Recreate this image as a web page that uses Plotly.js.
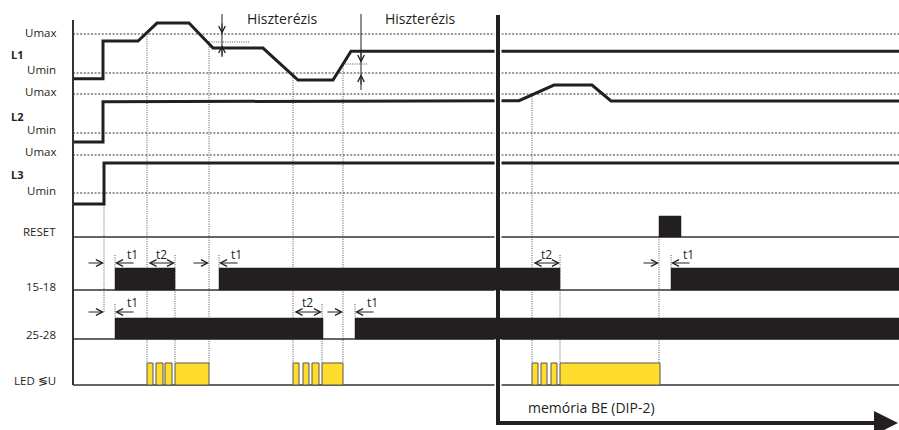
<!DOCTYPE html>
<html>
<head>
<meta charset="utf-8">
<script src="https://cdn.plot.ly/plotly-3.0.1.min.js"></script>
<style>
html,body{margin:0;padding:0;background:#fff;}
#chart{width:899px;height:430px;}
</style>
</head>
<body>
<div id="chart"></div>
<script>
// ================= DATA =================
// time axis in arbitrary units (0..899)
const timeStart = 73;
const timeEnd = 899;

// Supply voltages, normalised per phase: 0 = Umin, 1 = Umax
const l1Time  = [73, 103, 103, 138, 157, 189, 213, 263, 298, 333, 351, 899];
const l1Level = [-0.15, -0.15, 0.82, 0.82, 1.28, 1.28, 0.64, 0.64, -0.18, -0.18, 0.56, 0.56];
const l2Time  = [73, 103, 103, 519, 554, 592, 611, 899];
const l2Level = [-0.23, -0.23, 0.80, 0.83, 1.23, 1.23, 0.82, 0.82];
const l3Time  = [73, 104, 104, 899];
const l3Level = [-0.29, -0.29, 0.79, 0.79];

// Digital states: on-intervals
const resetStart = [659];
const resetEnd   = [681];
const relay1518Start = [115, 219, 671];
const relay1518End   = [175, 560, 899];
const relay2528Start = [115, 355];
const relay2528End   = [323, 899];
const ledStart = [147, 156, 165, 175, 293, 303, 312, 322, 532, 541, 551, 560];
const ledEnd   = [153, 163, 172, 209, 299, 309, 319, 343, 538, 547, 557, 660];

// Memory (DIP-2) switched on at
const memoryOnTime = 498;

// Delays
const delay1518Label = ['t1', 't2', 't1', 't2', 't1'];
const delay1518From  = [104, 147, 209, 532, 659];
const delay1518To    = [115, 175, 219, 560, 671];
const delay2528Label = ['t1', 't2', 't1'];
const delay2528From  = [104, 293, 343];
const delay2528To    = [115, 322, 355];

// Event marker lines: time, from level, to level
const eventTime = [104, 115, 115, 147, 175, 209, 219, 293, 322, 343, 355, 532, 560, 659, 671];
const eventFrom = ['L3low','t1518','t2528','L1max','t1518','L1hyst','t1518','L1min','t2528','L1hyst2','t2528','L2max','t1518','RESETbase','t1518'];
const eventTo   = ['arr2528','top1518','top2528','LED','LED','LED','top1518','LED','LED','LED','top2528','LED','LED','LED','top1518'];

// Hysteresis markers
const hystTime  = [222, 361];
const hystFrom  = [209, 343];
const hystTo    = [250, 367];

// Text
const levelLabels   = ['Umax', 'Umin', 'Umax', 'Umin', 'Umax', 'Umin'];
const channelLabels = ['L1', 'L2', 'L3'];
const outputLabels  = ['RESET', '15-18', '25-28', 'LED \u2276U'];
const hystText = 'Hiszterézis';
const memoryText = 'memória BE (DIP-2)';

// ================= LAYOUT GEOMETRY =================
const ROW = {
  L1: {umax: 34, umin: 73, label: 54},
  L2: {umax: 94, umin: 133, label: 116},
  L3: {umax: 155, umin: 193, label: 174},
  RESET: {base: 237, top: 216, label: 231},
  R1518: {base: 290, top: 268, arrow: 263, tlabel: 254, label: 286},
  R2528: {base: 339, top: 318, arrow: 312, tlabel: 302, label: 334},
  LED: {base: 385, top: 363, label: 380}
};
const REF = {
  L1max: 34, L1hyst: 42, L1min: 73, L1hyst2: 64, L2max: 94, L3low: 205,
  RESETbase: 237, t1518: 255, top1518: 268, t2528: 304, arr2528: 312, top2528: 318, LED: 363
};
const hystLineY = [42, 64];
const hystBottom = [57, 90];
const hystDownTip = [34, 63];
const hystUpTip = [45, 74];
const INK = '#231f20';

function levelToY(row, v) { return row.umin - v * (row.umin - row.umax); }
function rects(starts, ends, y0, y1) {
  const xs = [], ys = [];
  for (let i = 0; i < starts.length; i++) {
    xs.push(starts[i], starts[i], ends[i], ends[i], starts[i], null);
    ys.push(y0, y1, y1, y0, y0, null);
  }
  return {x: xs, y: ys};
}

const traces = [];

// dashed Umin/Umax levels
(function () {
  const xs = [], ys = [];
  [ROW.L1, ROW.L2, ROW.L3].forEach(r => {
    xs.push(timeStart, timeEnd, null, timeStart, timeEnd, null);
    ys.push(r.umax, r.umax, null, r.umin, r.umin, null);
  });
  traces.push({x: xs, y: ys, mode: 'lines', line: {color: '#333', width: 1, dash: '2px,1.6px'}});
})();

// dotted event lines + hysteresis dotted lines
(function () {
  const xs = [], ys = [];
  for (let i = 0; i < eventTime.length; i++) {
    xs.push(eventTime[i], eventTime[i], null);
    ys.push(REF[eventFrom[i]], REF[eventTo[i]], null);
  }
  for (let i = 0; i < hystFrom.length; i++) {
    xs.push(hystFrom[i], hystTo[i], null);
    ys.push(hystLineY[i], hystLineY[i], null);
  }
  traces.push({x: xs, y: ys, mode: 'lines', line: {color: '#555', width: 1, dash: '1px,1.3px'}});
})();

// baselines of the digital rows
(function () {
  const xs = [], ys = [];
  [ROW.RESET, ROW.R1518, ROW.R2528, ROW.LED].forEach(r => {
    xs.push(timeStart, timeEnd, null);
    ys.push(r.base, r.base, null);
  });
  traces.push({x: xs, y: ys, mode: 'lines', line: {color: '#333', width: 1.4}});
})();

// voltage signals
traces.push({x: l1Time, y: l1Level.map(v => levelToY(ROW.L1, v)), mode: 'lines', line: {color: INK, width: 3}});
traces.push({x: l2Time, y: l2Level.map(v => levelToY(ROW.L2, v)), mode: 'lines', line: {color: INK, width: 3}});
traces.push({x: l3Time, y: l3Level.map(v => levelToY(ROW.L3, v)), mode: 'lines', line: {color: INK, width: 3}});

// hysteresis marker stems
(function () {
  const xs = [], ys = [];
  for (let i = 0; i < hystTime.length; i++) {
    xs.push(hystTime[i], hystTime[i], null);
    ys.push(14, hystBottom[i], null);
  }
  traces.push({x: xs, y: ys, mode: 'lines', line: {color: INK, width: 1}});
})();

// left time axis
traces.push({x: [timeStart, timeStart], y: [20, ROW.LED.base], mode: 'lines', line: {color: '#333', width: 2}});

// memory line (white halo + thick black)
traces.push({x: [memoryOnTime, memoryOnTime], y: [14, 420], mode: 'lines', line: {color: '#fff', width: 7}});
traces.push({x: [memoryOnTime, memoryOnTime, 882], y: [15, 423, 423], mode: 'lines', line: {color: INK, width: 4}});

// RESET pulse
(function () {
  const r = rects(resetStart, resetEnd, ROW.RESET.base, ROW.RESET.top);
  traces.push({x: r.x, y: r.y, mode: 'lines', fill: 'toself', fillcolor: INK, line: {color: INK, width: 0.5}});
})();
// relays
(function () {
  const a = rects(relay1518Start, relay1518End, ROW.R1518.base, ROW.R1518.top);
  traces.push({x: a.x, y: a.y, mode: 'lines', fill: 'toself', fillcolor: INK, line: {color: INK, width: 0.5}});
  const b = rects(relay2528Start, relay2528End, ROW.R2528.base, ROW.R2528.top);
  traces.push({x: b.x, y: b.y, mode: 'lines', fill: 'toself', fillcolor: INK, line: {color: INK, width: 0.5}});
})();
// LED
(function () {
  const r = rects(ledStart, ledEnd, ROW.LED.base, ROW.LED.top);
  traces.push({x: r.x, y: r.y, mode: 'lines', fill: 'toself', fillcolor: '#FFDD2E', line: {color: '#555', width: 1}});
})();

// ================= ANNOTATIONS =================
const ann = [];
const FONT = 'Open Sans, Liberation Sans, sans-serif';
function txt(x, y, t, size, xanchor, bold) {
  ann.push({x: x, y: y, xref: 'x', yref: 'y', text: bold ? '<b>' + t + '</b>' : t, showarrow: false,
    xanchor: xanchor || 'center', yanchor: 'middle', font: {family: FONT, size: size, color: INK}});
}
function arrow(xTip, yTip, xTail, yTail, both) {
  ann.push({x: xTip, y: yTip, ax: xTail, ay: yTail, xref: 'x', yref: 'y', axref: 'x', ayref: 'y',
    text: '', showarrow: true, arrowhead: 5, arrowsize: 1.3, arrowwidth: 1, arrowcolor: INK,
    startarrowhead: 5, startarrowsize: 1.3, arrowside: both ? 'end+start' : 'end', standoff: 0, startstandoff: 0});
}

// level labels
const lvlY = [ROW.L1.umax - 2, ROW.L1.umin - 4, ROW.L2.umax - 3, ROW.L2.umin - 4, ROW.L3.umax - 4, ROW.L3.umin - 3];
levelLabels.forEach((t, i) => txt(58, lvlY[i], t, 11.5, 'right'));
[ROW.L1, ROW.L2, ROW.L3].forEach((r, i) => txt(9, r.label, channelLabels[i], 11, 'left', true));
[ROW.RESET, ROW.R1518, ROW.R2528, ROW.LED].forEach((r, i) => txt(58, r.label, outputLabels[i], 11.5, 'right'));

// hysteresis labels and arrows
txt(282, 18, hystText, 14);
txt(420, 18, hystText, 14);
for (let i = 0; i < hystTime.length; i++) {
  arrow(hystTime[i], hystDownTip[i], hystTime[i], hystDownTip[i] - 12);
  arrow(hystTime[i], hystUpTip[i], hystTime[i], hystUpTip[i] + 12);
}

// delay arrows
function delays(labels, from, to, row) {
  for (let i = 0; i < labels.length; i++) {
    if (labels[i] === 't2') {
      arrow(to[i], row.arrow, from[i], row.arrow, true);
      txt((from[i] + to[i]) / 2, row.tlabel, labels[i], 12);
    } else {
      arrow(from[i], row.arrow, from[i] - 17, row.arrow);
      arrow(to[i], row.arrow, to[i] + 20, row.arrow);
      txt(to[i] + 17, row.tlabel, labels[i], 12);
    }
  }
}
delays(delay1518Label, delay1518From, delay1518To, ROW.R1518);
delays(delay2528Label, delay2528From, delay2528To, ROW.R2528);

// memory arrow head and text
ann.push({x: 898, y: 423, ax: 870, ay: 423, xref: 'x', yref: 'y', axref: 'x', ayref: 'y', text: '',
  showarrow: true, arrowhead: 2, arrowsize: 1.2, arrowwidth: 4, arrowcolor: INK, standoff: 0});
txt(591, 407, memoryText, 14);

const layout = {
  width: 899, height: 430,
  margin: {l: 0, r: 0, t: 0, b: 0, pad: 0},
  paper_bgcolor: '#fff', plot_bgcolor: '#fff',
  showlegend: false, hovermode: false,
  xaxis: {range: [0, 899], visible: false, fixedrange: true},
  yaxis: {range: [430, 0], visible: false, fixedrange: true},
  annotations: ann
};

Plotly.newPlot('chart', traces, layout, {staticPlot: true, displayModeBar: false});
</script>
</body>
</html>
